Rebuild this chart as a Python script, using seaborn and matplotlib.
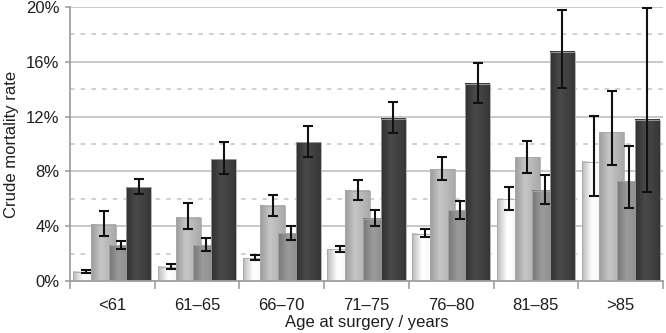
import numpy as np
import pandas as pd
import seaborn as sns
import matplotlib
matplotlib.use("Agg")
import matplotlib.pyplot as plt
from matplotlib.colors import LinearSegmentedColormap
from matplotlib.ticker import FixedLocator

# ---- data ----
ages = ["<61", "61–65", "66–70", "71–75", "76–80", "81–85", ">85"]
series = ["A", "B", "C", "D"]

rate_a = [0.68, 1.05, 1.65, 2.30, 3.45, 5.95, 8.70]
lo_a = [0.58, 0.90, 1.50, 2.13, 3.18, 5.21, 6.23]
hi_a = [0.80, 1.24, 1.87, 2.57, 3.80, 6.84, 12.02]

rate_b = [4.12, 4.61, 5.48, 6.60, 8.17, 9.02, 10.86]
lo_b = [3.32, 3.81, 4.75, 5.89, 7.40, 7.88, 8.48]
hi_b = [5.11, 5.67, 6.30, 7.37, 9.02, 10.25, 13.89]

rate_c = [2.60, 2.60, 3.49, 4.56, 5.16, 6.60, 7.27]
lo_c = [2.30, 2.18, 3.00, 4.05, 4.56, 5.65, 5.31]
hi_c = [2.93, 3.15, 4.05, 5.16, 5.87, 7.71, 9.87]

rate_d = [6.86, 8.87, 10.13, 11.85, 14.38, 16.75, 11.76]
lo_d = [6.33, 7.83, 9.07, 10.81, 12.97, 14.11, 6.47]
hi_d = [7.47, 10.13, 11.32, 13.09, 15.93, 19.78, 19.95]

rates = [rate_a, rate_b, rate_c, rate_d]
lows = [lo_a, lo_b, lo_c, lo_d]
highs = [hi_a, hi_b, hi_c, hi_d]

y_ticks = [0, 4, 8, 12, 16, 20]
y_ticklabels = ["0%", "4%", "8%", "12%", "16%", "20%"]

df = pd.DataFrame({
    "age": np.repeat([ages], 4, axis=0).ravel(),
    "series": np.repeat(series, len(ages)),
    "rate": np.concatenate(rates),
})

# ---- style ----
sns.set_style("white")
plt.rcParams["font.family"] = ["Liberation Sans", "DejaVu Sans"]
text_col = "#1e1e1e"

flat_cols = ["#eeeeee", "#b4b4b4", "#8e8e8e", "#3e3e3e"]
grad_stops = [
    ["#b9b9b9", "#ffffff", "#f3f3f3"],
    ["#9c9c9c", "#c6c6c6", "#a9a9a9"],
    ["#777777", "#9b9b9b", "#868686"],
    ["#303030", "#4a4a4a", "#373737"],
]

fig = plt.figure(figsize=(6.66, 3.33), dpi=100)
ax = fig.add_axes([70 / 666, 1 - 281 / 333, (663 - 70) / 666, (281 - 7) / 333])

sns.barplot(data=df, x="age", y="rate", hue="series", order=ages,
            hue_order=series, palette=flat_cols, width=0.836, dodge=True,
            errorbar=None, legend=False, saturation=1, ax=ax)

# widen bars so they overlap, draw gradients
patches = [p for p in ax.patches if p.get_height() > 0]
centers = np.array([p.get_x() + p.get_width() / 2 for p in patches])
order = np.argsort(centers)
patches = [patches[i] for i in order]
bar_w = 0.295
grad = np.linspace(0, 1, 64).reshape(1, -1)
cmaps = [LinearSegmentedColormap.from_list(f"g{i}", list(zip([0, 0.4, 1], s)))
         for i, s in enumerate(grad_stops)]

for gi in range(len(ages)):
    for si in range(4):
        p = patches[gi * 4 + si]
        cx = p.get_x() + p.get_width() / 2
        h = p.get_height()
        p.set_x(cx - bar_w / 2)
        p.set_width(bar_w)
        p.set_facecolor("none")
        p.set_edgecolor("#a8a8a8")
        p.set_linewidth(0.6)
        z = 1 + si * 0.1
        p.set_zorder(z + 0.05)
        ax.imshow(grad, extent=[cx - bar_w / 2, cx + bar_w / 2, 0, h],
                  aspect="auto", cmap=cmaps[si], vmin=0, vmax=1,
                  zorder=z, interpolation="bilinear")
        ax.errorbar(cx, h, yerr=[[h - lows[si][gi]], [highs[si][gi] - h]],
                    fmt="none", ecolor="#111111", elinewidth=1.5,
                    capsize=3.8, capthick=1.5, zorder=5, clip_on=False)

ax.set_aspect("auto")
ax.set_xlim(-0.5, 6.5)
ax.set_ylim(0, 20)

# grid
ax.set_axisbelow(True)
ax.yaxis.set_major_locator(FixedLocator(y_ticks))
ax.set_yticklabels(y_ticklabels)
ax.yaxis.set_minor_locator(FixedLocator([2, 6, 10, 14, 18]))
ax.grid(axis="y", which="major", color="#c4c4c4", linewidth=1.3, linestyle="-")
ax.grid(axis="y", which="minor", color="#c4c4c4", linewidth=1.1,
        linestyle=(0, (3, 4)))
ax.grid(axis="x", visible=False)

# spines & ticks
for s in ["top", "right"]:
    ax.spines[s].set_visible(False)
for s in ["left", "bottom"]:
    ax.spines[s].set_color("#a0a0a0")
    ax.spines[s].set_linewidth(1.3)

ax.xaxis.set_minor_locator(FixedLocator(np.arange(-0.5, 7.0, 1.0)))
ax.tick_params(axis="x", which="major", length=0, pad=12, labelsize=12,
               labelcolor=text_col)
ax.tick_params(axis="x", which="minor", length=6, width=1.2, color="#a0a0a0",
               direction="out", bottom=True)
ax.tick_params(axis="y", which="major", length=3.5, width=1.2, color="#a0a0a0",
               pad=4, labelsize=12, labelcolor=text_col, left=True)
ax.tick_params(axis="y", which="minor", length=0)

ax.set_xlabel("Age at surgery / years", fontsize=12, color=text_col, labelpad=1.5)
ax.set_ylabel("Crude mortality rate", fontsize=12, color=text_col, labelpad=5)

fig.savefig("out.png", dpi=100)
